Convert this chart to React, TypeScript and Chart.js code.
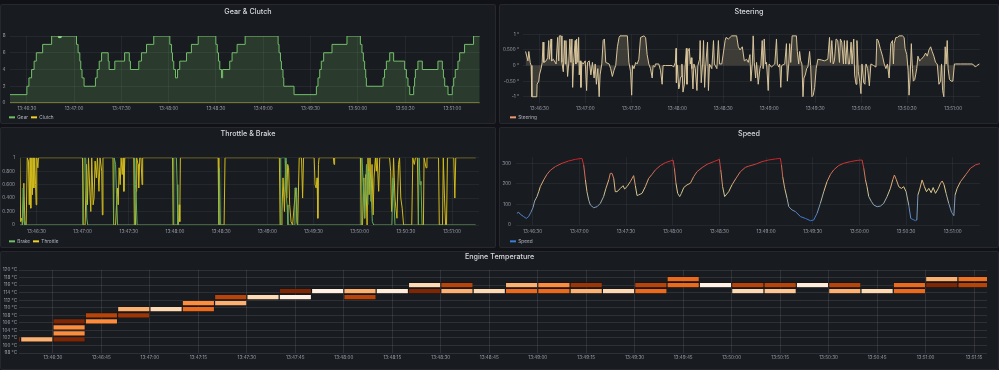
import React, { useEffect, useRef } from "react";
import { Chart, registerables } from "chart.js";

Chart.register(...registerables);

const FONT = "Inter, 'Noto Sans', 'DejaVu Sans', sans-serif";
Chart.defaults.font.family = FONT;

const PAGE_BG = "#111217";
const PANEL_BG = "#181b1f";
const PANEL_EDGE = "rgba(204,204,220,0.08)";
const TITLE_COLOR = "#d8d9de";
const TICK_COLOR = "rgba(204,204,220,0.72)";
const LEGEND_TEXT = "rgba(204,204,220,0.85)";
const GRID_COLOR = "rgba(204,204,220,0.07)";
const HEAT_GRID = "rgba(204,204,220,0.12)";
const GREEN = "#73bf69";
const YELLOW = "#f2d22a";
const THROTTLE_LINE = "#d2bb1c";
const BRAKE_LINE = "#66ad5c";
const STEER_LINE = "#d9c59b";
const STEER_LEGEND = "#eb9a74";
const SPEED_LEGEND = "#3d7fd6";

// time axis: seconds after 13:46:00
const CLOCK_START = 13 * 3600 + 46 * 60;
const lineRange = [19.3, 317.5];
const heatRange = [19.5, 319];
const timeTicks30 = [30, 60, 90, 120, 150, 180, 210, 240, 270, 300];
const timeTicks15 = [30, 45, 60, 75, 90, 105, 120, 135, 150, 165, 180, 195, 210, 225, 240, 255, 270, 285, 300, 315];

const gearTicks = [0, 2, 4, 6, 8];
const steerTicks = [-1, -0.5, 0, 0.5, 1];
const steerTickLabels = ["-1 °", "-0.50 °", "0 °", "0.500 °", "1 °"];
const throttleTicks = [0, 0.2, 0.4, 0.6, 0.8, 1];
const throttleTickLabels = ["0", "0.200", "0.400", "0.600", "0.800", "1"];
const speedTicks = [0, 100, 200, 300];
const tempTicks = [98, 100, 102, 104, 106, 108, 110, 112, 114, 116, 118, 120];

// [time, gear] – value holds until next change
const gearSeries: [number, number][] = [
  [19.3, 1], [30, 2], [31.3, 3], [33, 4], [34.6, 5], [36, 6], [40, 7], [45.7, 8], [61.5, 7], [62.5, 6], [63.6, 5],
  [64.2, 4], [65, 3], [66.3, 2], [73.5, 3], [74.6, 4], [75.9, 5], [77.4, 6], [81.6, 5], [82.2, 4], [85.8, 5], [92, 6],
  [95, 5], [95.7, 4], [101, 5], [102.7, 6], [105.9, 7], [110.5, 8], [120.7, 7], [121.8, 6], [122.4, 5], [123.2, 4],
  [124.3, 3], [125.6, 4], [127, 5], [131.3, 6], [134.4, 7], [138.7, 8], [149.9, 7], [150.8, 6], [151.6, 5], [152.4, 4],
  [153.5, 3], [154.2, 4], [158.7, 5], [160.2, 6], [163.4, 7], [168.5, 8], [189.4, 7], [190, 6], [190.9, 5], [191.5, 4],
  [192.5, 3], [193, 2], [199.5, 1], [213.7, 2], [214.7, 3], [215.8, 4], [216.8, 5], [218.3, 6], [223.6, 7], [233.1, 8],
  [241.6, 7], [242.6, 6], [243.5, 5], [244.3, 4], [245, 3], [245.4, 2], [256, 3], [256.9, 4], [258.1, 5], [260.2, 6],
  [262.7, 5], [269.7, 4], [270.8, 3], [271.8, 2], [272.9, 1], [275.4, 2], [276, 3], [276.5, 4], [278.1, 5], [280.9, 4],
  [290.8, 5], [293.6, 4], [294.3, 3], [295.1, 2], [297.2, 1], [299.9, 2], [300.8, 3], [301.8, 4], [303.5, 5], [304.6, 6],
  [307.7, 7], [313.4, 8], [317.3, 8],
];
const clutchSeries: [number, number][] = [[19.3, 0], [317.3, 0]];
const gearCursorPoint: [number, number] = [50.9, 8];

const steeringSeries: [number, number][] = [
  [21.0, 0.45], [22.5, 0.15], [23.1, 0.45], [24.0, 0.1], [24.6, 0], [25.1, -1], [28.3, -1], [28.5, -0.6], [29.6, -0.5],
  [30.0, -0.3], [31.1, -0.1], [31.8, 0.1], [32.4, 0.75], [32.9, 0.1], [34.4, 0.15], [35.4, 0.25], [36.1, 0.8], [36.5, 0.2],
  [37.6, 0.85], [38.0, 0.15], [39.1, 0.2], [40.9, 0.05], [41.9, 0.9], [42.6, 0.15], [43.0, 0.95], [44.1, 0.95], [44.7, 0.1],
  [45.6, -0.2], [46.3, 0.8], [46.9, 0.05], [47.3, 0.8], [48.0, 0.05], [48.4, -0.35], [49.1, 0.05], [49.9, 0.85], [50.6, 0.1],
  [51.2, 0.85], [51.7, -0.7], [52.3, 0.1], [53.4, 0.8], [53.8, 0.05], [54.3, 0.85], [55.1, 0.1], [55.6, 0.9], [56.0, -0.3],
  [56.6, 0.15], [57.1, -0.7], [57.7, 0.1], [58.6, 0.05], [59.9, 0.15], [60.8, -0.8], [61.4, 0.1], [62.5, 0.15], [63.6, -0.3],
  [64.6, 0.1], [65.7, -0.4], [66.4, 0.05], [67.2, -0.6], [68.1, -0.1], [69.0, -1], [69.6, -0.3], [70.7, 0.05], [71.6, 0.8],
  [72.4, 0.85], [73.3, 0.1], [75.5, 0.05], [76.5, -0.1], [77.6, -0.35], [78.7, -0.15], [79.8, 0], [80.9, 0.6], [82.0, 0.9],
  [82.6, 0.95], [87.4, 0.95], [88.4, 0.1], [89.5, -0.2], [90.2, -0.95], [90.8, 0], [91.7, -0.1], [92.8, 0.1], [93.8, 0.05],
  [94.9, 0.2], [96.0, 0.9], [98.2, 0.95], [99.3, 0.9], [100.3, 0.35], [101.4, 0.05], [102.5, -0.1], [103.6, -0.4], [104.2, 0],
  [105.3, -0.05], [105.7, 0.05], [107.9, 0.05], [109.0, -0.15], [110.1, -0.6], [110.7, 0], [112.2, 0], [116.6, 0],
  [117.6, -0.05], [118.7, 0.1], [119.2, 0.55], [119.4, -0.55], [120.0, 0.02], [120.9, -0.75], [121.3, -0.7], [122.0, -0.4],
  [122.6, -0.35], [123.0, 0.05], [123.7, -0.85], [124.6, -0.6], [125.2, 0.05], [125.9, 0.55], [126.3, -0.6], [126.9, 0.45],
  [127.8, 0.55], [128.5, 0.05], [129.1, 0.25], [129.5, -0.1], [130.2, -0.75], [130.8, 0.05], [131.7, -0.1], [132.8, -0.8],
  [133.4, 0], [134.5, 0.2], [134.9, 0.8], [135.6, -0.55], [136.5, 0.05], [137.1, 0.8], [137.8, -0.7], [138.6, 0.05],
  [139.7, 0.75], [140.3, -0.8], [141.0, 0.05], [142.5, -0.1], [143.6, 0.8], [144.2, 0.05], [145.8, -0.1], [146.8, 0.8],
  [147.5, 0.05], [149.0, 0.05], [151.2, 0.8], [151.8, 0.9], [153.3, 0.85], [155.5, 0.95], [158.7, 0.95], [159.8, 0.6],
  [160.9, 0.5], [162.4, 0.6], [163.7, 0.15], [165.2, 0.2], [166.3, 0.1], [167.4, 0.35], [168.0, -0.5], [168.9, 0.05],
  [169.5, 0.95], [170.2, 0.1], [171.1, -0.4], [171.7, 0.1], [172.8, -0.6], [173.9, -0.1], [174.5, 0], [175.4, 0.8],
  [176.0, -0.1], [176.7, 0.85], [177.5, 0.05], [178.2, 0.1], [179.3, -0.8], [179.9, 0.05], [181.4, -0.05], [182.5, 0],
  [183.6, 0.05], [184.7, 0.85], [185.3, 0.05], [186.2, -0.05], [186.8, 0.05], [187.5, -0.7], [188.1, 0], [190.1, 0.05],
  [191.2, 0.7], [191.8, -0.5], [192.7, 0.05], [193.3, 0.7], [194.0, 0.1], [194.9, 0.95], [197.7, 0.95], [198.3, 0.45],
  [199.2, 0.05], [199.8, 0.45], [200.5, 0.15], [201.3, 0.05], [202.0, -1], [202.6, -0.4], [203.5, -0.3], [204.4, -0.1],
  [205.2, -0.05], [206.3, 0.45], [207.0, 0], [207.8, -1], [208.7, -0.95], [209.6, -0.7], [210.6, -0.1], [211.7, 0.2],
  [213.9, 0.18], [216.0, 0.15], [218.2, 0.2], [219.3, 0.9], [219.9, 0.1], [220.8, 0.8], [221.7, 0.05], [222.5, 0.15],
  [223.6, 0.85], [224.7, 0.8], [225.8, 0.1], [226.4, 0.85], [227.3, 0.75], [228.4, 0.05], [229.0, 0.8], [229.9, 0.05],
  [230.8, 0.8], [231.6, 0.05], [232.3, 0.05], [233.4, 0.75], [234.0, 0.05], [235.1, 0.85], [235.7, -0.3], [236.6, -0.6],
  [237.2, 0.8], [238.1, -0.2], [239.0, -0.5], [239.8, -0.9], [240.5, 0.05], [241.6, -0.55], [242.4, -0.6], [243.1, 0.05],
  [244.2, -0.1], [245.3, -0.65], [246.3, 0.05], [248.1, 0], [249.6, -0.05], [250.2, 0.85], [251.1, 0.8], [252.4, 0.55],
  [253.9, 0.3], [255.0, 0.05], [256.1, -0.1], [257.1, 0.05], [258.2, -0.4], [259.3, 0.7], [260.4, 0.8], [261.0, 0.05],
  [261.5, 0.7], [262.6, 0.9], [263.6, 0.9], [264.7, 0.95], [266.9, 0.95], [268.0, 0.9], [268.6, 0.55], [269.7, 0.35],
  [270.6, -0.15], [271.2, -0.95], [271.9, -0.4], [272.7, 0.7], [273.4, -0.1], [274.0, -0.5], [274.9, -0.45], [275.5, -0.3],
  [276.2, -0.1], [277.0, 0.3], [278.1, 0.15], [279.2, 0.2], [280.9, 0.3], [282.0, 0.4], [283.1, 0.3], [284.2, 0.5],
  [285.3, 0.6], [286.3, 0.45], [287.4, 0.3], [288.5, 0.1], [289.6, 0.05], [290.7, -0.6], [291.8, -0.5], [292.4, 0.05],
  [293.1, -0.8], [293.9, -1], [294.8, 0.6], [295.4, 0.05], [296.1, 0.8], [296.7, -0.1], [297.6, -0.45], [298.7, -0.5],
  [299.8, -0.5], [300.8, 0.05], [301.5, 0.05], [304.7, 0.05], [309.1, 0.05], [312.3, 0.05], [313.4, 0.02], [314.5, -0.05],
  [315.5, 0], [317.1, 0.05],
];

const throttleSeries: [number, number][] = [
  [19.0, 1], [19.2, 1], [19.7, 0.05], [20.3, 0.1], [21.0, 0], [21.8, 0.62], [22.5, 0], [23.3, 0], [24.0, 1], [24.8, 0.95],
  [25.3, 0.3], [25.9, 1], [26.3, 0.25], [27.0, 1], [27.4, 0.45], [27.8, 1], [28.3, 0.55], [28.9, 1], [29.4, 0.6], [29.8, 0.3],
  [30.2, 1], [30.9, 0.85], [31.3, 1], [59.9, 1], [60.3, 0], [61.6, 0], [62.5, 0.9], [63.1, 0.3], [63.8, 1], [64.6, 0.55],
  [65.3, 0.2], [65.9, 1], [66.8, 0.3], [67.4, 0.4], [68.1, 0.95], [68.9, 0.7], [69.6, 1], [70.6, 0.5], [71.3, 1], [72.4, 0.8],
  [72.8, 0.15], [73.2, 1], [79.7, 1], [80.1, 0], [81.4, 0], [82.0, 0.3], [82.7, 0.55], [83.1, 0.3], [83.7, 0.85], [84.4, 0.6],
  [85.0, 1], [85.7, 0.75], [86.3, 1], [86.8, 0.5], [87.4, 1], [93.2, 1], [93.6, 0], [94.3, 0], [94.7, 0.5], [95.1, 1],
  [96.0, 0.9], [96.4, 0.55], [97.1, 1], [97.9, 1], [98.6, 0.6], [99.0, 1], [118.4, 1], [118.8, 0], [122.2, 0], [122.7, 0.3],
  [123.1, 0.05], [123.5, 1], [148.0, 1], [148.5, 0], [151.9, 0], [152.5, 1], [187.8, 1], [188.3, 0], [188.9, 0], [189.5, 0.2],
  [190.2, 0.7], [191.1, 0.2], [191.9, 0.95], [192.6, 0.4], [193.2, 0.9], [193.8, 0.85], [194.5, 0.3], [195.4, 0.05],
  [196.4, 0], [197.5, 0.3], [198.6, 0.55], [199.2, 0.05], [199.7, 0], [200.7, 1], [202.2, 1], [202.9, 0.4], [203.5, 1],
  [210.4, 1], [211.0, 0.6], [211.7, 0.55], [212.3, 0.7], [212.8, 0.1], [213.2, 0.9], [213.6, 1], [222.9, 1], [223.3, 0.9],
  [223.7, 1], [240.5, 1], [240.9, 0], [241.8, 0], [242.7, 0.7], [243.3, 0.1], [243.9, 0.75], [244.8, 0], [245.4, 1],
  [246.1, 0.45], [246.7, 1], [247.4, 0.35], [248.0, 0.9], [248.7, 0.15], [249.3, 0.7], [250.2, 1], [250.8, 0.8], [251.3, 1],
  [252.3, 0.5], [253.0, 1], [259.4, 1], [260.1, 0.8], [260.7, 0.2], [261.4, 0.5], [262.0, 1], [262.9, 0.4], [263.5, 0.25],
  [264.2, 0.1], [265.2, 0.9], [265.9, 1], [266.7, 0.4], [267.6, 0.25], [268.5, 0], [272.8, 0], [273.8, 0], [274.5, 1],
  [274.9, 0.95], [275.5, 0.9], [276.2, 1], [277.5, 1], [278.1, 0], [281.4, 0], [281.8, 1], [283.1, 0.85], [283.7, 1],
  [291.2, 1], [291.7, 0], [293.8, 0], [294.3, 1], [295.1, 0.4], [295.8, 0], [296.4, 0], [297.0, 1], [301.1, 1], [301.8, 0.4],
  [302.4, 1], [315.3, 1],
];

const brakeSeries: [number, number][] = [
  [19.0, 0], [20.8, 0], [21.4, 0.55], [22.0, 0.05], [22.5, 0], [60.3, 0], [61.0, 1], [62.0, 1], [62.7, 0.1], [63.3, 0],
  [80.1, 0], [80.5, 1], [81.4, 0.9], [82.0, 0.45], [82.7, 0], [93.6, 0], [93.8, 1], [94.3, 0.6], [94.7, 0.45], [95.4, 0],
  [118.8, 0], [119.2, 1], [120.9, 1], [121.4, 0.6], [121.8, 0], [148.5, 0], [148.9, 0.85], [149.5, 0], [188.3, 0], [188.7, 1],
  [191.5, 1], [192.1, 0.5], [192.8, 0.3], [193.4, 0], [197.5, 0], [197.9, 0.55], [199.0, 0.55], [199.4, 0], [240.9, 0],
  [241.4, 1], [242.4, 0.6], [243.1, 0.1], [244.4, 0.9], [245.2, 0.3], [246.1, 0.8], [247.2, 0.6], [248.2, 0.05], [249.1, 0],
  [260.9, 0], [261.6, 0.7], [262.2, 0.4], [262.9, 0], [278.1, 0], [278.6, 1], [279.2, 0.6], [279.8, 0.65], [280.5, 0],
  [315.3, 0],
];

const speedSeries: [number, number][] = [
  [19.9, 57], [21.0, 62], [22.1, 52], [24.2, 41], [25.9, 32], [27.4, 41], [28.9, 62], [30.2, 84], [31.3, 117], [32.8, 138],
  [33.9, 162], [34.9, 186], [37.1, 219], [39.2, 246], [41.4, 266], [44.6, 284], [48.9, 300], [53.1, 311], [57.4, 319],
  [61.7, 324], [62.8, 292], [63.9, 219], [64.9, 162], [66.0, 122], [67.1, 97], [69.2, 84], [71.4, 89], [73.5, 105],
  [75.6, 138], [77.1, 178], [78.9, 219], [79.9, 251], [81.0, 251], [82.1, 227], [83.1, 162], [84.2, 162], [86.4, 178],
  [88.1, 191], [89.1, 175], [90.6, 186], [92.8, 211], [94.9, 240], [96.0, 191], [97.1, 143], [98.1, 146], [100.3, 154],
  [102.4, 186], [104.6, 227], [106.7, 246], [108.9, 268], [112.1, 289], [115.3, 303], [118.5, 311], [120.2, 316],
  [121.1, 276], [122.1, 203], [123.2, 154], [124.5, 138], [125.6, 154], [127.1, 182], [129.2, 195], [131.4, 203],
  [133.5, 235], [135.6, 259], [138.9, 279], [142.1, 295], [146.4, 308], [150.0, 319], [150.9, 268], [152.1, 186],
  [153.4, 138], [156.0, 162], [158.1, 195], [160.7, 227], [163.5, 259], [166.7, 280], [168.9, 286], [173.1, 295],
  [177.4, 308], [181.7, 316], [186.0, 321], [189.2, 324], [189.9, 292], [190.7, 235], [192.0, 178], [193.5, 130],
  [194.6, 89], [196.7, 73], [198.9, 65], [202.1, 41], [205.3, 32], [208.5, 21], [210.6, 24], [212.8, 57], [214.9, 105],
  [217.1, 162], [219.2, 211], [221.4, 246], [223.5, 268], [226.7, 289], [229.9, 300], [234.2, 308], [238.5, 314],
  [241.7, 316], [242.8, 276], [243.9, 219], [244.9, 186], [246.0, 138], [247.7, 114], [249.2, 97], [251.4, 89],
  [253.5, 92], [255.6, 105], [257.8, 138], [259.9, 178], [261.4, 219], [262.5, 243], [263.8, 219], [265.3, 186],
  [267.0, 178], [268.5, 186], [270.0, 162], [271.7, 97], [273.0, 32], [276.0, 21], [276.9, 24], [277.6, 146],
  [278.6, 170], [280.3, 219], [281.8, 186], [283.1, 162], [284.6, 178], [286.1, 157], [287.4, 182], [288.9, 154],
  [290.6, 176], [292.1, 203], [293.2, 214], [294.4, 195], [295.7, 154], [297.4, 105], [299.2, 62], [300.7, 45],
  [301.5, 146], [302.8, 178], [305.0, 211], [308.2, 243], [311.4, 276], [314.6, 292], [318.2, 300],
];

// heatmap cells: [bucket start (s), bucket centre (°C), sample count]
const HEAT_BUCKET_SECONDS = 10;
const heatCells: [number, number, number][] = [
  [10, 101.6, 1], [20, 101.6, 5],
  [30, 106.4, 1], [30, 104.8, 4], [30, 103.2, 4], [30, 101.6, 1],
  [40, 108.0, 2], [40, 106.4, 4],
  [50, 109.6, 5], [50, 108.0, 1.5],
  [60, 109.6, 6],
  [70, 111.2, 4], [70, 109.6, 3],
  [80, 112.8, 2], [80, 111.2, 5],
  [90, 112.8, 6],
  [100, 114.4, 1], [100, 112.8, 7],
  [110, 114.4, 7],
  [120, 114.4, 5], [120, 112.8, 2],
  [130, 114.4, 6.8],
  [140, 116.0, 6], [140, 114.4, 1],
  [150, 116.0, 2], [150, 114.4, 5],
  [160, 114.4, 6],
  [170, 116.0, 5], [170, 114.4, 3],
  [180, 116.0, 4], [180, 114.4, 3],
  [190, 116.0, 1.5], [190, 114.4, 5],
  [200, 114.4, 6],
  [210, 116.0, 2], [210, 114.4, 3],
  [220, 117.6, 3], [220, 116.0, 3],
  [230, 116.0, 7],
  [240, 116.0, 2], [240, 114.4, 6],
  [250, 116.0, 2], [250, 114.4, 5.5],
  [260, 116.0, 6.8],
  [270, 116.0, 2], [270, 114.4, 5],
  [280, 114.4, 6],
  [290, 116.0, 3], [290, 114.4, 3],
  [300, 117.6, 5], [300, 116.0, 1],
  [310, 117.6, 3.2], [310, 116.0, 2],
];

const HEAT_PALETTE: [number, number, number][] = [
  [127, 39, 4], [184, 68, 10], [236, 106, 28], [253, 141, 60], [253, 177, 112], [253, 218, 179], [255, 242, 228],
];
function heatColor(count: number) {
  const p = Math.max(0, Math.min(HEAT_PALETTE.length - 1, count - 1));
  const i = Math.min(HEAT_PALETTE.length - 2, Math.floor(p));
  const f = p - i;
  const a = HEAT_PALETTE[i], b = HEAT_PALETTE[i + 1];
  const c = a.map((v, k) => Math.round(v + (b[k] - v) * f));
  return `rgb(${c[0]},${c[1]},${c[2]})`;
}

const SPEED_STOPS: [number, [number, number, number]][] = [
  [20, [50, 116, 217]], [175, [226, 206, 140]], [325, [200, 28, 40]],
];
function speedColor(v: number) {
  if (v <= SPEED_STOPS[0][0]) return `rgb(${SPEED_STOPS[0][1].join(",")})`;
  for (let i = 0; i < SPEED_STOPS.length - 1; i++) {
    const [v0, c0] = SPEED_STOPS[i];
    const [v1, c1] = SPEED_STOPS[i + 1];
    if (v <= v1) {
      const f = (v - v0) / (v1 - v0);
      const c = c0.map((x, k) => Math.round(x + (c1[k] - x) * f));
      return `rgb(${c.join(",")})`;
    }
  }
  return `rgb(${SPEED_STOPS[SPEED_STOPS.length - 1][1].join(",")})`;
}

function clock(t: number) {
  const s = CLOCK_START + Math.round(t);
  const hh = Math.floor(s / 3600);
  const mm = Math.floor((s % 3600) / 60);
  const ss = s % 60;
  return `${hh}:${String(mm).padStart(2, "0")}:${String(ss).padStart(2, "0")}`;
}

const TICK_FONT = { size: 4.6, family: FONT };

function xAxis(range: number[], ticks: number[], height: number, pad: number, grid: string) {
  return {
    type: "linear",
    min: range[0],
    max: range[1],
    bounds: "data",
    offset: false,
    afterBuildTicks: (s: any) => {
      s.ticks = ticks.map((v) => ({ value: v }));
    },
    afterFit: (s: any) => {
      s.height = height;
    },
    ticks: {
      autoSkip: false,
      maxRotation: 0,
      padding: pad,
      color: TICK_COLOR,
      font: TICK_FONT,
      callback: (v: any) => clock(Number(v)),
    },
    grid: { color: grid, drawTicks: false, offset: false },
    border: { display: false },
  };
}

function yAxis(min: number, max: number, ticks: number[], labels: (v: number, i: number) => string, width: number, pad: number, grid: string) {
  return {
    type: "linear",
    min,
    max,
    bounds: "data",
    offset: false,
    afterBuildTicks: (s: any) => {
      s.ticks = ticks.map((v) => ({ value: v }));
    },
    afterFit: (s: any) => {
      s.width = width;
    },
    ticks: {
      autoSkip: false,
      padding: pad,
      color: TICK_COLOR,
      font: TICK_FONT,
      callback: (v: any, i: number) => labels(Number(v), i),
    },
    grid: { color: grid, drawTicks: false, offset: false },
    border: { display: false },
  };
}

function legendOpts(colors: Record<string, string>) {
  return {
    display: true,
    position: "bottom",
    align: "start",
    maxHeight: 12,
    labels: {
      boxWidth: 6,
      boxHeight: 2,
      padding: 3,
      color: LEGEND_TEXT,
      font: { size: 4.7, family: FONT },
      generateLabels: (chart: any) =>
        (Chart.defaults.plugins.legend.labels as any)
          .generateLabels(chart)
          .filter((it: any) => colors[it.text] !== undefined)
          .map((it: any) => ({ ...it, fillStyle: colors[it.text], strokeStyle: colors[it.text], lineWidth: 0 })),
    },
  };
}

// shifts the legend block to the right so it starts under the plot, as in the panel layout
function legendShift(px: number) {
  return {
    id: "legendShift",
    afterLayout(chart: any) {
      if (chart.legend) {
        chart.legend.left += px;
        chart.legend.right += px;
      }
    },
  };
}

const toXY = (s: [number, number][]) => s.map(([x, y]) => ({ x, y }));

function baseOptions(padding: any, legend: any, scales: any, extra: any = {}) {
  return {
    animation: false,
    responsive: false,
    events: [],
    layout: { padding },
    plugins: { legend, tooltip: { enabled: false }, title: { display: false } },
    scales,
    ...extra,
  };
}

function gearConfig() {
  return {
    type: "line",
    data: {
      datasets: [
        {
          label: "Gear",
          data: toXY(gearSeries),
          stepped: true,
          borderColor: GREEN,
          borderWidth: 1,
          backgroundColor: "rgba(115,191,105,0.2)",
          fill: "origin",
          pointRadius: 0,
        },
        { label: "Clutch", data: toXY(clutchSeries), borderColor: "#c9b227", borderWidth: 1, pointRadius: 0, fill: false },
        {
          label: "cursor",
          data: [{ x: gearCursorPoint[0], y: gearCursorPoint[1] }],
          showLine: false,
          pointRadius: 2.2,
          pointBackgroundColor: "#a8df9f",
          pointBorderWidth: 0,
        },
      ],
    },
    options: baseOptions(
      { left: 1, right: 16, top: 32, bottom: 0 },
      legendOpts({ Gear: GREEN, Clutch: YELLOW }),
      {
        x: xAxis(lineRange, timeTicks30, 9, 3, GRID_COLOR),
        y: yAxis(0, 8, gearTicks, (v) => String(v), 9, 4.5, GRID_COLOR),
      }
    ),
    plugins: [legendShift(5)],
  };
}

function steeringConfig() {
  return {
    type: "line",
    data: {
      datasets: [
        {
          label: "Steering",
          data: toXY(steeringSeries),
          borderColor: STEER_LINE,
          borderWidth: 1,
          backgroundColor: "rgba(217,197,155,0.2)",
          fill: "origin",
          pointRadius: 0,
        },
      ],
    },
    options: baseOptions(
      { left: 1, right: 19, top: 30.3, bottom: 0 },
      legendOpts({ Steering: STEER_LEGEND }),
      {
        x: xAxis(lineRange, timeTicks30, 9, 3, GRID_COLOR),
        y: yAxis(-1.2, 1, steerTicks, (_v, i) => steerTickLabels[i], 23, 4, GRID_COLOR),
      }
    ),
    plugins: [legendShift(7)],
  };
}

function throttleConfig() {
  return {
    type: "line",
    data: {
      datasets: [
        { label: "Brake", data: toXY(brakeSeries), borderColor: BRAKE_LINE, borderWidth: 1, pointRadius: 0, fill: false },
        { label: "Throttle", data: toXY(throttleSeries), borderColor: THROTTLE_LINE, borderWidth: 1, pointRadius: 0, fill: false },
      ],
    },
    options: baseOptions(
      { left: 1, right: 17, top: 30.7, bottom: 0 },
      legendOpts({ Brake: GREEN, Throttle: YELLOW }),
      {
        x: xAxis(lineRange, timeTicks30, 11, 3.7, GRID_COLOR),
        y: yAxis(0, 1, throttleTicks, (_v, i) => throttleTickLabels[i], 19, 5, GRID_COLOR),
      }
    ),
    plugins: [legendShift(5)],
  };
}

function speedConfig() {
  return {
    type: "line",
    data: {
      datasets: [
        {
          label: "Speed",
          data: toXY(speedSeries),
          borderColor: SPEED_LEGEND,
          borderWidth: 1,
          pointRadius: 0,
          fill: false,
          segment: {
            borderColor: (ctx: any) => speedColor((ctx.p0.parsed.y + ctx.p1.parsed.y) / 2),
          },
        },
      ],
    },
    options: baseOptions(
      { left: 1, right: 19, top: 30.1, bottom: 0 },
      legendOpts({ Speed: SPEED_LEGEND }),
      {
        x: xAxis(lineRange, timeTicks30, 11, 3.7, GRID_COLOR),
        y: yAxis(0, 330, speedTicks, (v) => String(v), 16, 5, GRID_COLOR),
      }
    ),
    plugins: [legendShift(7)],
  };
}

function heatConfig() {
  return {
    type: "bar",
    data: {
      datasets: [
        {
          label: "Engine Temperature",
          data: heatCells.map(([t, c]) => ({ x: [t, t + HEAT_BUCKET_SECONDS], y: c })),
          backgroundColor: heatCells.map(([, , n]) => heatColor(n)),
          borderColor: "rgba(20,18,16,0.85)",
          borderWidth: 0.6,
          borderSkipped: false,
          barPercentage: 0.9,
          categoryPercentage: 1,
          grouped: false,
        },
      ],
    },
    options: baseOptions(
      { left: 0, right: 12, top: 19, bottom: 0 },
      { display: false },
      {
        x: { ...xAxis(heatRange, timeTicks15, 17, 2.3, HEAT_GRID), beginAtZero: false },
        y: yAxis(98, 120, tempTicks, (v) => `${v} °C`, 19, 2, HEAT_GRID),
      },
      { indexAxis: "y" }
    ),
  };
}

type PanelProps = {
  x: number;
  y: number;
  w: number;
  h: number;
  title: string;
  titleY: number;
  makeConfig: () => any;
};

function Panel({ x, y, w, h, title, titleY, makeConfig }: PanelProps) {
  const ref = useRef<HTMLCanvasElement>(null);
  useEffect(() => {
    const chart = new Chart(ref.current as HTMLCanvasElement, makeConfig());
    return () => chart.destroy();
  }, []);
  return (
    <div
      style={{
        position: "absolute",
        left: x,
        top: y,
        width: w,
        height: h,
        background: PANEL_BG,
        boxShadow: `inset 0 0 0 1px ${PANEL_EDGE}`,
        borderRadius: 2,
        overflow: "hidden",
      }}
    >
      <canvas ref={ref} width={w} height={h} style={{ position: "absolute", left: 0, top: 0, width: w, height: h }} />
      <div
        style={{
          position: "absolute",
          left: 0,
          right: 0,
          top: titleY - 4,
          height: 8,
          lineHeight: "8px",
          textAlign: "center",
          fontFamily: FONT,
          fontSize: 7.2,
          fontWeight: 500,
          color: TITLE_COLOR,
          whiteSpace: "nowrap",
        }}
      >
        {title}
      </div>
    </div>
  );
}

export default function App() {
  return (
    <div style={{ position: "fixed", left: 0, top: 0, width: 999, height: 370, background: PAGE_BG, overflow: "hidden" }}>
      <Panel x={0} y={4} w={496} h={120} title="Gear & Clutch" titleY={8} makeConfig={gearConfig} />
      <Panel x={499} y={4} w={500} h={120} title="Steering" titleY={8} makeConfig={steeringConfig} />
      <Panel x={0} y={127} w={496} h={121} title="Throttle & Brake" titleY={7.3} makeConfig={throttleConfig} />
      <Panel x={499} y={127} w={500} h={121} title="Speed" titleY={7.3} makeConfig={speedConfig} />
      <Panel x={0} y={251} w={999} h={119} title="Engine Temperature" titleY={5.7} makeConfig={heatConfig} />
    </div>
  );
}
